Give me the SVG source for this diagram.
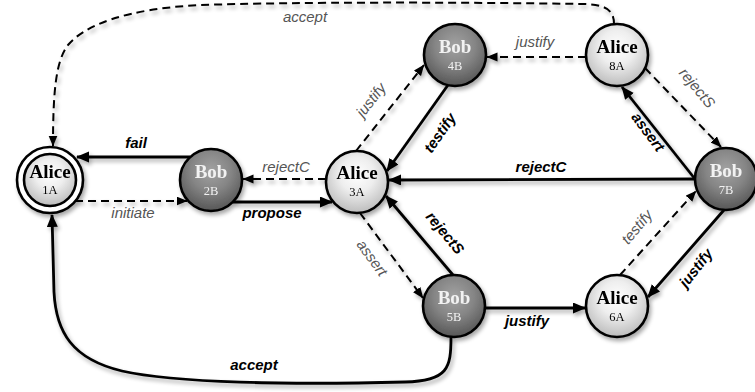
<svg xmlns="http://www.w3.org/2000/svg" width="755" height="392" viewBox="0 0 755 392">
<style>
.e{fill:none;stroke:#000;stroke-width:2.8}
.d{fill:none;stroke:#000;stroke-width:2;stroke-dasharray:8 5}
.ring{fill:#fff;stroke:#000;stroke-width:2.6}
.alice{fill:url(#ga);stroke:#000;stroke-width:2.6}
.bob{fill:url(#gb);stroke:#000;stroke-width:2.6}
.nm{font-family:"Liberation Serif",serif;font-weight:bold;font-size:19px;text-anchor:middle}
.id{font-family:"Liberation Serif",serif;font-size:12.5px;text-anchor:middle}
.wa{fill:#000}
.wb{fill:#f2f2f2}
.lb{font-family:"Liberation Sans",Arial,sans-serif;font-style:italic;font-weight:bold;font-size:15px;text-anchor:middle;fill:#000}
.ll{font-family:"Liberation Sans",Arial,sans-serif;font-style:italic;font-size:15px;text-anchor:middle;fill:#555}
</style>
<defs>
<radialGradient id="ga" cx="50%" cy="38%" r="62%">
<stop offset="0" stop-color="#ffffff"/>
<stop offset="0.45" stop-color="#eeeeee"/>
<stop offset="1" stop-color="#bcbcbc"/>
</radialGradient>
<radialGradient id="gb" cx="50%" cy="35%" r="65%">
<stop offset="0" stop-color="#a2a2a2"/>
<stop offset="0.5" stop-color="#858585"/>
<stop offset="1" stop-color="#565656"/>
</radialGradient>
<filter id="sh" x="-20%" y="-20%" width="140%" height="140%">
<feGaussianBlur in="SourceAlpha" stdDeviation="2.2"/>
<feOffset dx="2" dy="3" result="o"/>
<feComponentTransfer><feFuncA type="linear" slope="0.35"/></feComponentTransfer>
<feMerge><feMergeNode/><feMergeNode in="SourceGraphic"/></feMerge>
</filter>
<marker id="as" markerUnits="userSpaceOnUse" markerWidth="14" markerHeight="12" refX="12" refY="5.5" orient="auto">
<path d="M0,0 L13,5.5 L0,11 z" fill="#000"/>
</marker>
<marker id="ad" markerUnits="userSpaceOnUse" markerWidth="12" markerHeight="10" refX="10.5" refY="4.5" orient="auto">
<path d="M0,0 L11,4.5 L0,9 z" fill="#000"/>
</marker>
</defs>
<rect width="755" height="392" fill="#fff"/>
<g id="connectors" filter="url(#sh)">
<path class="e" d="M190,157 L77,157" marker-end="url(#as)"/>
<path class="e" d="M233,202 L332,202" marker-end="url(#as)"/>
<path class="e" d="M448,85 L387,171" marker-end="url(#as)"/>
<path class="e" d="M695,179 L389,180" marker-end="url(#as)"/>
<path class="e" d="M453,275 L386,196" marker-end="url(#as)"/>
<path class="e" d="M695,179 L622,87" marker-end="url(#as)"/>
<path class="e" d="M485,308 L585,308" marker-end="url(#as)"/>
<path class="e" d="M724,210 L648,297" marker-end="url(#as)"/>
<path class="e" d="M451,337 C451,368 448,381 405,382 C290,385 175,383 122,371 C72,359 56,332 54,292 L52,215" marker-end="url(#as)"/>
<path class="d" d="M75,201 L187,201" marker-end="url(#ad)"/>
<path class="d" d="M326,179 L243,179" marker-end="url(#ad)"/>
<path class="d" d="M356,151 L424,65" marker-end="url(#ad)"/>
<path class="d" d="M586,57 L487,57" marker-end="url(#ad)"/>
<path class="d" d="M645,68 L721,147" marker-end="url(#ad)"/>
<path class="d" d="M360,213 L423,298" marker-end="url(#ad)"/>
<path class="d" d="M620,275 L696,191" marker-end="url(#ad)"/>
<path class="d" d="M614,24 C614,10 606,5 585,4 C450,2 300,2 200,5 C125,9 85,25 68,45 C56,61 53,90 53,146" marker-end="url(#ad)"/>
</g>
<g id="labels">
<text class="lb" x="136" y="148">fail</text>
<text class="ll" x="133" y="218">initiate</text>
<text class="ll" x="286" y="172">rejectC</text>
<text class="lb" x="272" y="218">propose</text>
<text class="lb" x="541" y="172">rejectC</text>
<text class="ll" x="535" y="47">justify</text>
<text class="ll" x="305" y="22">accept</text>
<text class="lb" x="254" y="370">accept</text>
<text class="lb" x="527" y="326">justify</text>
<text class="lb" transform="translate(440,133) rotate(-55)" dy="5">testify</text>
<text class="ll" transform="translate(371,100) rotate(-52)" dy="5">justify</text>
<text class="ll" transform="translate(697,88) rotate(50)" dy="5">rejectS</text>
<text class="lb" transform="translate(648,132) rotate(53)" dy="5">assert</text>
<text class="ll" transform="translate(637,227) rotate(-50)" dy="5">testify</text>
<text class="lb" transform="translate(696,268) rotate(-52)" dy="5">justify</text>
<text class="lb" transform="translate(445,233) rotate(50)" dy="5">rejectS</text>
<text class="ll" transform="translate(372,258) rotate(54)" dy="5">assert</text>
</g>
<g id="n1A" filter="url(#sh)">
<circle class="ring" cx="50" cy="180" r="33"/>
<circle class="alice" cx="50" cy="180" r="26"/>
<text class="nm wa" x="50" y="178">Alice</text>
<text class="id wa" x="50" y="194">1A</text>
</g>
<g id="n2B" filter="url(#sh)">
<circle class="bob" cx="211" cy="180" r="31"/>
<text class="nm wb" x="211" y="178">Bob</text>
<text class="id wb" x="211" y="195">2B</text>
</g>
<g id="n3A" filter="url(#sh)">
<circle class="alice" cx="357" cy="182" r="31"/>
<text class="nm wa" x="357" y="179">Alice</text>
<text class="id wa" x="357" y="196">3A</text>
</g>
<g id="n4B" filter="url(#sh)">
<circle class="bob" cx="455" cy="55" r="31"/>
<text class="nm wb" x="455" y="53">Bob</text>
<text class="id wb" x="455" y="70">4B</text>
</g>
<g id="n8A" filter="url(#sh)">
<circle class="alice" cx="617" cy="55" r="31"/>
<text class="nm wa" x="617" y="53">Alice</text>
<text class="id wa" x="617" y="70">8A</text>
</g>
<g id="n7B" filter="url(#sh)">
<circle class="bob" cx="726" cy="179" r="31"/>
<text class="nm wb" x="726" y="177">Bob</text>
<text class="id wb" x="726" y="194">7B</text>
</g>
<g id="n6A" filter="url(#sh)">
<circle class="alice" cx="617" cy="306" r="31"/>
<text class="nm wa" x="617" y="304">Alice</text>
<text class="id wa" x="617" y="321">6A</text>
</g>
<g id="n5B" filter="url(#sh)">
<circle class="bob" cx="454" cy="306" r="31"/>
<text class="nm wb" x="454" y="304">Bob</text>
<text class="id wb" x="454" y="321">5B</text>
</g>
</svg>
